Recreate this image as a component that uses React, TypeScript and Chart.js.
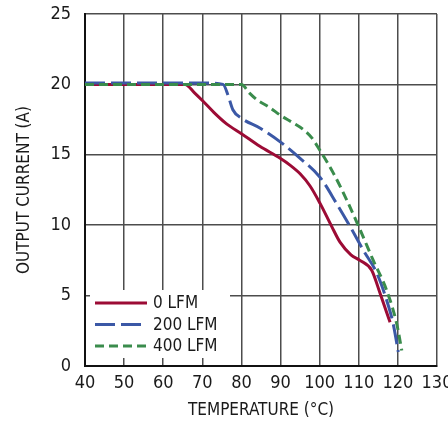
import React, { useEffect, useRef } from 'react';
import { Chart, registerables } from 'chart.js';
Chart.register(...registerables);

const FONT = "'Liberation Sans Narrow', 'Arial Narrow', 'DejaVu Sans Condensed', sans-serif";

const seriesLabels = ['0 LFM', '200 LFM', '400 LFM'];

const temp0 = [40, 50, 60, 65.6, 68, 70.2, 73, 76.2, 80, 84.7, 89.9, 92.5, 95, 97.5, 100.1, 103.1, 105.2, 108, 110.3, 113.3, 115.4, 118];
const current0 = [20, 20, 20, 20, 19.4, 18.8, 18.0, 17.2, 16.5, 15.6, 14.75, 14.25, 13.65, 12.8, 11.55, 9.9, 8.8, 7.9, 7.5, 6.8, 5.2, 3.1];

const temp200 = [40, 50, 60, 70, 75.3, 76.6, 77.8, 80, 84.7, 90, 95, 100.1, 104.3, 107.8, 111.2, 114.6, 117.1, 118.8, 120.1];
const current200 = [20.1, 20.1, 20.1, 20.1, 20.0, 19.2, 18.2, 17.6, 16.9, 15.9, 14.75, 13.4, 11.55, 9.9, 8.2, 6.6, 4.7, 3.0, 1.0];

const temp400 = [40, 50, 60, 70, 80, 82, 84, 87, 90, 93, 95.8, 98, 100.1, 103.5, 106.9, 110.3, 113.7, 117.1, 119.7, 121];
const current400 = [20, 20, 20, 20, 20, 19.4, 18.9, 18.4, 17.8, 17.3, 16.8, 16.2, 15.3, 13.7, 11.8, 9.7, 7.5, 5.4, 3.0, 1.1];

const xTicks = [40, 50, 60, 70, 80, 90, 100, 110, 120, 130];
const yTicks = [0, 5, 10, 15, 20, 25];

const xTitle = 'TEMPERATURE (°C)';
const yTitle = 'OUTPUT CURRENT (A)';

const colors = ['#9c0b35', '#3b58a6', '#3a8c4c'];
const dashes: number[][] = [[], [20, 6], [9, 5]];

const toPoints = (xs: number[], ys: number[]) => xs.map((x, i) => ({ x, y: ys[i] }));

const legendPlugin = {
  id: 'insetLegend',
  beforeDatasetsDraw(chart: any) {
    const { ctx, chartArea } = chart;
    const left = chartArea.left + 5;
    const right = chartArea.left + 145;
    const top = chartArea.bottom - 76;
    const bottom = chartArea.bottom - 8;
    ctx.save();
    ctx.fillStyle = '#ffffff';
    ctx.fillRect(left, top, right - left, bottom - top);
    chart.data.datasets.forEach((ds: any, i: number) => {
      const yy = top + 13 + i * 21.5;
      ctx.beginPath();
      ctx.strokeStyle = ds.borderColor;
      ctx.lineWidth = 3;
      ctx.setLineDash(ds.borderDash || []);
      ctx.moveTo(left + 5, yy);
      ctx.lineTo(left + 57, yy);
      ctx.stroke();
      ctx.setLineDash([]);
      ctx.fillStyle = '#1a1a1a';
      ctx.font = `17px ${FONT}`;
      ctx.textBaseline = 'middle';
      ctx.textAlign = 'left';
      ctx.fillText(ds.label, left + 63, yy + 1);
    });
    ctx.restore();
  },
};

export default function App() {
  const ref = useRef<HTMLCanvasElement | null>(null);
  useEffect(() => {
    document.body.style.margin = '0';
    const canvas = ref.current!;
    const series = [
      toPoints(temp0, current0),
      toPoints(temp200, current200),
      toPoints(temp400, current400),
    ];
    const chart = new Chart(canvas, {
      type: 'line',
      data: {
        datasets: series.map((d, i) => ({
          label: seriesLabels[i],
          data: d,
          borderColor: colors[i],
          backgroundColor: colors[i],
          borderWidth: 3,
          borderDash: dashes[i],
          pointRadius: 0,
          fill: false,
          cubicInterpolationMode: 'monotone' as const,
          order: 2 - i,
        })),
      },
      options: {
        animation: false,
        responsive: false,
        maintainAspectRatio: false,
        layout: { padding: { top: 14, right: 11, left: 0, bottom: 0 } },
        plugins: { legend: { display: false }, tooltip: { enabled: false } },
        scales: {
          x: {
            type: 'linear',
            min: 40,
            max: 130,
            afterBuildTicks: (s: any) => { s.ticks = xTicks.map((v) => ({ value: v })); },
            afterFit: (s: any) => { s.height = 56; s.paddingLeft = 0; s.paddingRight = 0; },
            grid: { color: '#4d4d4d', lineWidth: 1.5, drawTicks: false },
            border: { color: '#111', width: 2 },
            ticks: { color: '#1a1a1a', font: { family: FONT, size: 18 }, padding: 7, maxRotation: 0 },
            title: { display: true, text: xTitle, color: '#1a1a1a', font: { family: FONT, size: 17 }, padding: { top: 0, bottom: 1 } },
          },
          y: {
            type: 'linear',
            min: 0,
            max: 25,
            afterBuildTicks: (s: any) => { s.ticks = yTicks.map((v) => ({ value: v })); },
            afterFit: (s: any) => { s.width = 85; s.paddingTop = 0; s.paddingBottom = 0; },
            grid: { color: '#4d4d4d', lineWidth: 1.5, drawTicks: false },
            border: { color: '#111', width: 2 },
            ticks: { color: '#1a1a1a', font: { family: FONT, size: 18 }, padding: 14 },
            title: { display: true, text: yTitle, color: '#1a1a1a', font: { family: FONT, size: 17 }, padding: { top: 14, bottom: 0 } },
          },
        },
      },
      plugins: [legendPlugin],
    } as any);
    return () => chart.destroy();
  }, []);
  return <canvas ref={ref} width={448} height={422} style={{ display: 'block' }} />;
}
